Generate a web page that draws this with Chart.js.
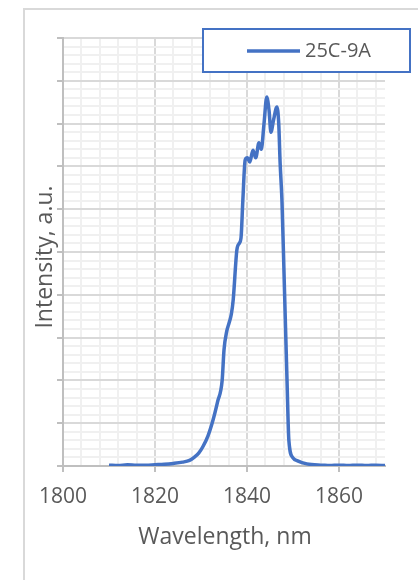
<!DOCTYPE html>
<html>
<head>
<meta charset="utf-8">
<script src="https://cdn.jsdelivr.net/npm/chart.js@4/dist/chart.umd.min.js"></script>
<style>
  html, body { margin: 0; padding: 0; background: #fff; }
  #wrap { width: 418px; height: 580px; position: relative; }
</style>
</head>
<body>
<div id="wrap"><canvas id="spec" width="418" height="580"></canvas></div>
<script>
// spectrum 25C-9A, intensity in arbitrary units (0..10 on the hidden y scale)
var seriesName = '25C-9A';
var wavelength = [1810, 1812, 1814, 1816, 1818, 1820, 1822, 1824, 1826, 1827.5,
  1828.5, 1829.5, 1830.4, 1831.5, 1832.6, 1833.6, 1834.6, 1835.0, 1835.6, 1836.1,
  1836.6, 1837.0, 1837.8, 1838.3, 1838.7, 1839.1, 1839.6, 1840.1, 1840.6, 1841.3,
  1841.9, 1842.6, 1843.1, 1843.7, 1844.3, 1844.8, 1845.2, 1845.8, 1846.5, 1846.9,
  1847.2, 1847.6, 1848.1, 1848.7, 1849.1, 1850.0, 1851.0, 1853.0, 1856.5, 1858,
  1860, 1862, 1864, 1866, 1868, 1870];
var intensity = [0.02, 0.01, 0.03, 0.02, 0.02, 0.03, 0.04, 0.06, 0.09, 0.13,
  0.2, 0.3, 0.45, 0.7, 1.07, 1.5, 2.0, 2.71, 3.15, 3.34,
  3.55, 3.88, 5.05, 5.2, 5.33, 6.21, 7.15, 7.2, 7.1, 7.38,
  7.2, 7.55, 7.4, 8.0, 8.62, 8.3, 7.8, 8.1, 8.39, 8.0,
  7.08, 6.2, 4.3, 2.0, 0.6, 0.19, 0.12, 0.05, 0.02, 0.01,
  0.02, 0.01, 0.02, 0.01, 0.02, 0.01];

var xMajorTicks = [1800, 1820, 1840, 1860];
var xMin = 1800, xMax = 1870, xMinorStep = 4;
var yMax = 10, yMinorStep = 0.2;

var GRID_MAJOR = '#d9d9d9';
var GRID_MINOR = '#f0f0f0';
var AXIS = '#bfbfbf';
var TEXT = '#595959';
var BLUE = '#4472C4';

Chart.defaults.font.family = "'Open Sans', sans-serif";
Chart.defaults.color = TEXT;

function isMajorX(v) { return xMajorTicks.indexOf(v) >= 0; }
function isMajorY(v) { return Math.abs(v - Math.round(v)) < 1e-6; }

var decor = {
  id: 'decor',
  beforeDraw: function (chart) {
    var c = chart.ctx;
    c.save();
    c.fillStyle = '#fff';
    c.fillRect(0, 0, chart.width, chart.height);
    c.strokeStyle = '#d9d9d9';
    c.lineWidth = 2;
    c.strokeRect(24, 9, 600, 800);
    c.restore();
  },
  afterDraw: function (chart) {
    var c = chart.ctx, a = chart.chartArea;
    c.save();
    c.fillStyle = TEXT;
    c.font = "23px 'Open Sans'";
    c.textAlign = 'center';
    c.textBaseline = 'middle';
    c.fillText('Wavelength, nm', (a.left + a.right) / 2 + 1, 537);
    c.translate(45, (a.top + a.bottom) / 2 + 5);
    c.rotate(-Math.PI / 2);
    c.fillText('Intensity, a.u.', 0, 0);
    c.restore();

    // legend box
    c.save();
    c.fillStyle = '#fff';
    c.fillRect(203, 29, 207, 43);
    c.strokeStyle = BLUE;
    c.lineWidth = 2;
    c.strokeRect(203, 29, 207, 43);
    c.beginPath();
    c.moveTo(247, 51);
    c.lineTo(300, 51);
    c.lineWidth = 3.5;
    c.stroke();
    c.fillStyle = TEXT;
    c.font = "20px 'Open Sans'";
    c.textBaseline = 'middle';
    c.fillText(seriesName, 305, 51);
    c.restore();
  }
};

new Chart(document.getElementById('spec'), {
  type: 'line',
  data: {
    datasets: [{
      label: seriesName,
      data: wavelength.map(function (w, i) { return { x: w, y: intensity[i] }; }),
      borderColor: BLUE,
      borderWidth: 3.5,
      pointRadius: 0,
      cubicInterpolationMode: 'monotone',
      fill: false
    }]
  },
  options: {
    responsive: false,
    animation: false,
    layout: { padding: { left: 0, top: 38, right: 33, bottom: 0 } },
    plugins: { legend: { display: false }, tooltip: { enabled: false } },
    scales: {
      x: {
        type: 'linear',
        min: xMin,
        max: xMax,
        afterFit: function (s) { s.height = 114; },
        afterBuildTicks: function (s) {
          var t = [];
          for (var v = xMin; v <= xMax - 1; v += xMinorStep) t.push({ value: v });
          s.ticks = t;
        },
        grid: {
          color: function (ctx) { return ctx.tick && isMajorX(ctx.tick.value) ? GRID_MAJOR : GRID_MINOR; },
          lineWidth: 2,
          tickLength: 6,
          tickColor: function (ctx) { return ctx.tick && isMajorX(ctx.tick.value) ? AXIS : 'rgba(0,0,0,0)'; }
        },
        border: { color: AXIS, width: 2 },
        ticks: {
          autoSkip: false,
          maxRotation: 0,
          padding: 12,
          font: { size: 21 },
          callback: function (v) { return isMajorX(v) ? String(v) : ''; }
        }
      },
      y: {
        min: 0,
        max: yMax,
        afterFit: function (s) { s.width = 63; },
        afterBuildTicks: function (s) {
          var t = [];
          for (var i = 0; i <= yMax / yMinorStep; i++) t.push({ value: i * yMinorStep });
          s.ticks = t;
        },
        grid: {
          color: function (ctx) { return ctx.tick && isMajorY(ctx.tick.value) ? GRID_MAJOR : GRID_MINOR; },
          lineWidth: 2,
          tickLength: 6,
          tickColor: function (ctx) { return ctx.tick && isMajorY(ctx.tick.value) ? AXIS : 'rgba(0,0,0,0)'; }
        },
        border: { color: AXIS, width: 2 },
        ticks: { autoSkip: false, callback: function () { return ''; } }
      }
    }
  },
  plugins: [decor]
});
</script>
</body>
</html>
